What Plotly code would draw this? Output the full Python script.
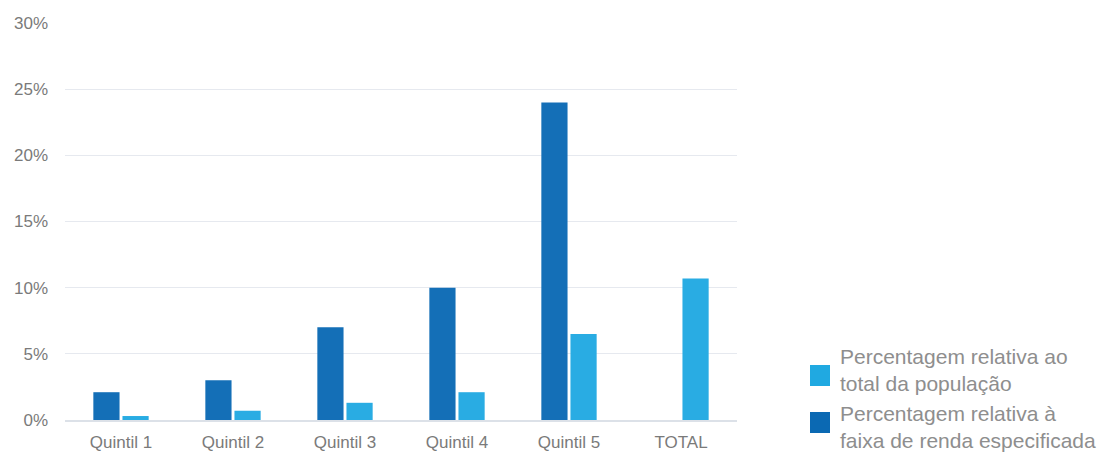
import plotly.graph_objects as go

categories = ["Quintil 1", "Quintil 2", "Quintil 3", "Quintil 4", "Quintil 5", "TOTAL"]
faixa_renda = [2.1, 3.0, 7.0, 10.0, 24.0, None]
total_pop = [0.3, 0.7, 1.3, 2.1, 6.5, 10.7]
y_ticks = [0, 5, 10, 15, 20, 25, 30]
y_tick_labels = ["0%", "5%", "10%", "15%", "20%", "25%", "30%"]
legend_labels = ["Percentagem relativa ao<br>total da população",
                 "Percentagem relativa à<br>faixa de renda especificada"]

dark = "#146FB7"
light = "#29ACE3"
dark_sw = "#0B69B3"
light_sw = "#20A9E1"
text_color = "#7A7A7A"
legend_color = "#8E8E8E"
font_family = "Liberation Sans, Arial, Helvetica, sans-serif"

fig = go.Figure()
fig.add_trace(go.Bar(
    x=categories, y=faixa_renda, name=legend_labels[1],
    marker=dict(color=dark, line=dict(width=0)), showlegend=False,
))
fig.add_trace(go.Bar(
    x=categories, y=total_pop, name=legend_labels[0],
    marker=dict(color=light, line=dict(width=0)), showlegend=False,
))

# manual legend (larger swatches than Plotly's native legend)
sw = [(light_sw, 0.0856, 0.1385, 0.126), (dark_sw, -0.0327, 0.0202, -0.0164)]
for (col, y0, y1, ty), lab in zip(sw, legend_labels):
    fig.add_shape(type="rect", xref="paper", yref="paper",
                  x0=1.1086, x1=1.1384, y0=y0, y1=y1,
                  fillcolor=col, line=dict(width=0))
    fig.add_annotation(xref="paper", yref="paper", x=1.1503, y=ty,
                       xanchor="left", yanchor="middle", align="left",
                       text=lab, showarrow=False,
                       font=dict(size=21, color=legend_color, family=font_family))

fig.update_layout(
    width=1099, height=452,
    margin=dict(l=65, r=362, t=23, b=32, autoexpand=False),
    paper_bgcolor="white", plot_bgcolor="white",
    barmode="group", bargap=0.48, bargroupgap=0.1,
    font=dict(family=font_family, color=text_color, size=18),
)
fig.update_xaxes(
    showgrid=False, showline=True, linecolor="#DCE1E8", linewidth=2,
    ticks="", tickfont=dict(size=17, color=text_color),
    automargin=False, ticklabelstandoff=6,
)
fig.update_yaxes(
    range=[0, 30], tickvals=y_ticks, ticktext=y_tick_labels,
    showgrid=True, gridcolor="#E6E9EF", gridwidth=1,
    zeroline=False, showline=False, ticks="",
    tickfont=dict(size=17, color=text_color), ticklabelstandoff=16,
    automargin=False,
)

fig.write_html("out.html", config={"displayModeBar": False},
               post_script="document.body.style.margin='0';document.body.style.overflow='hidden';")
